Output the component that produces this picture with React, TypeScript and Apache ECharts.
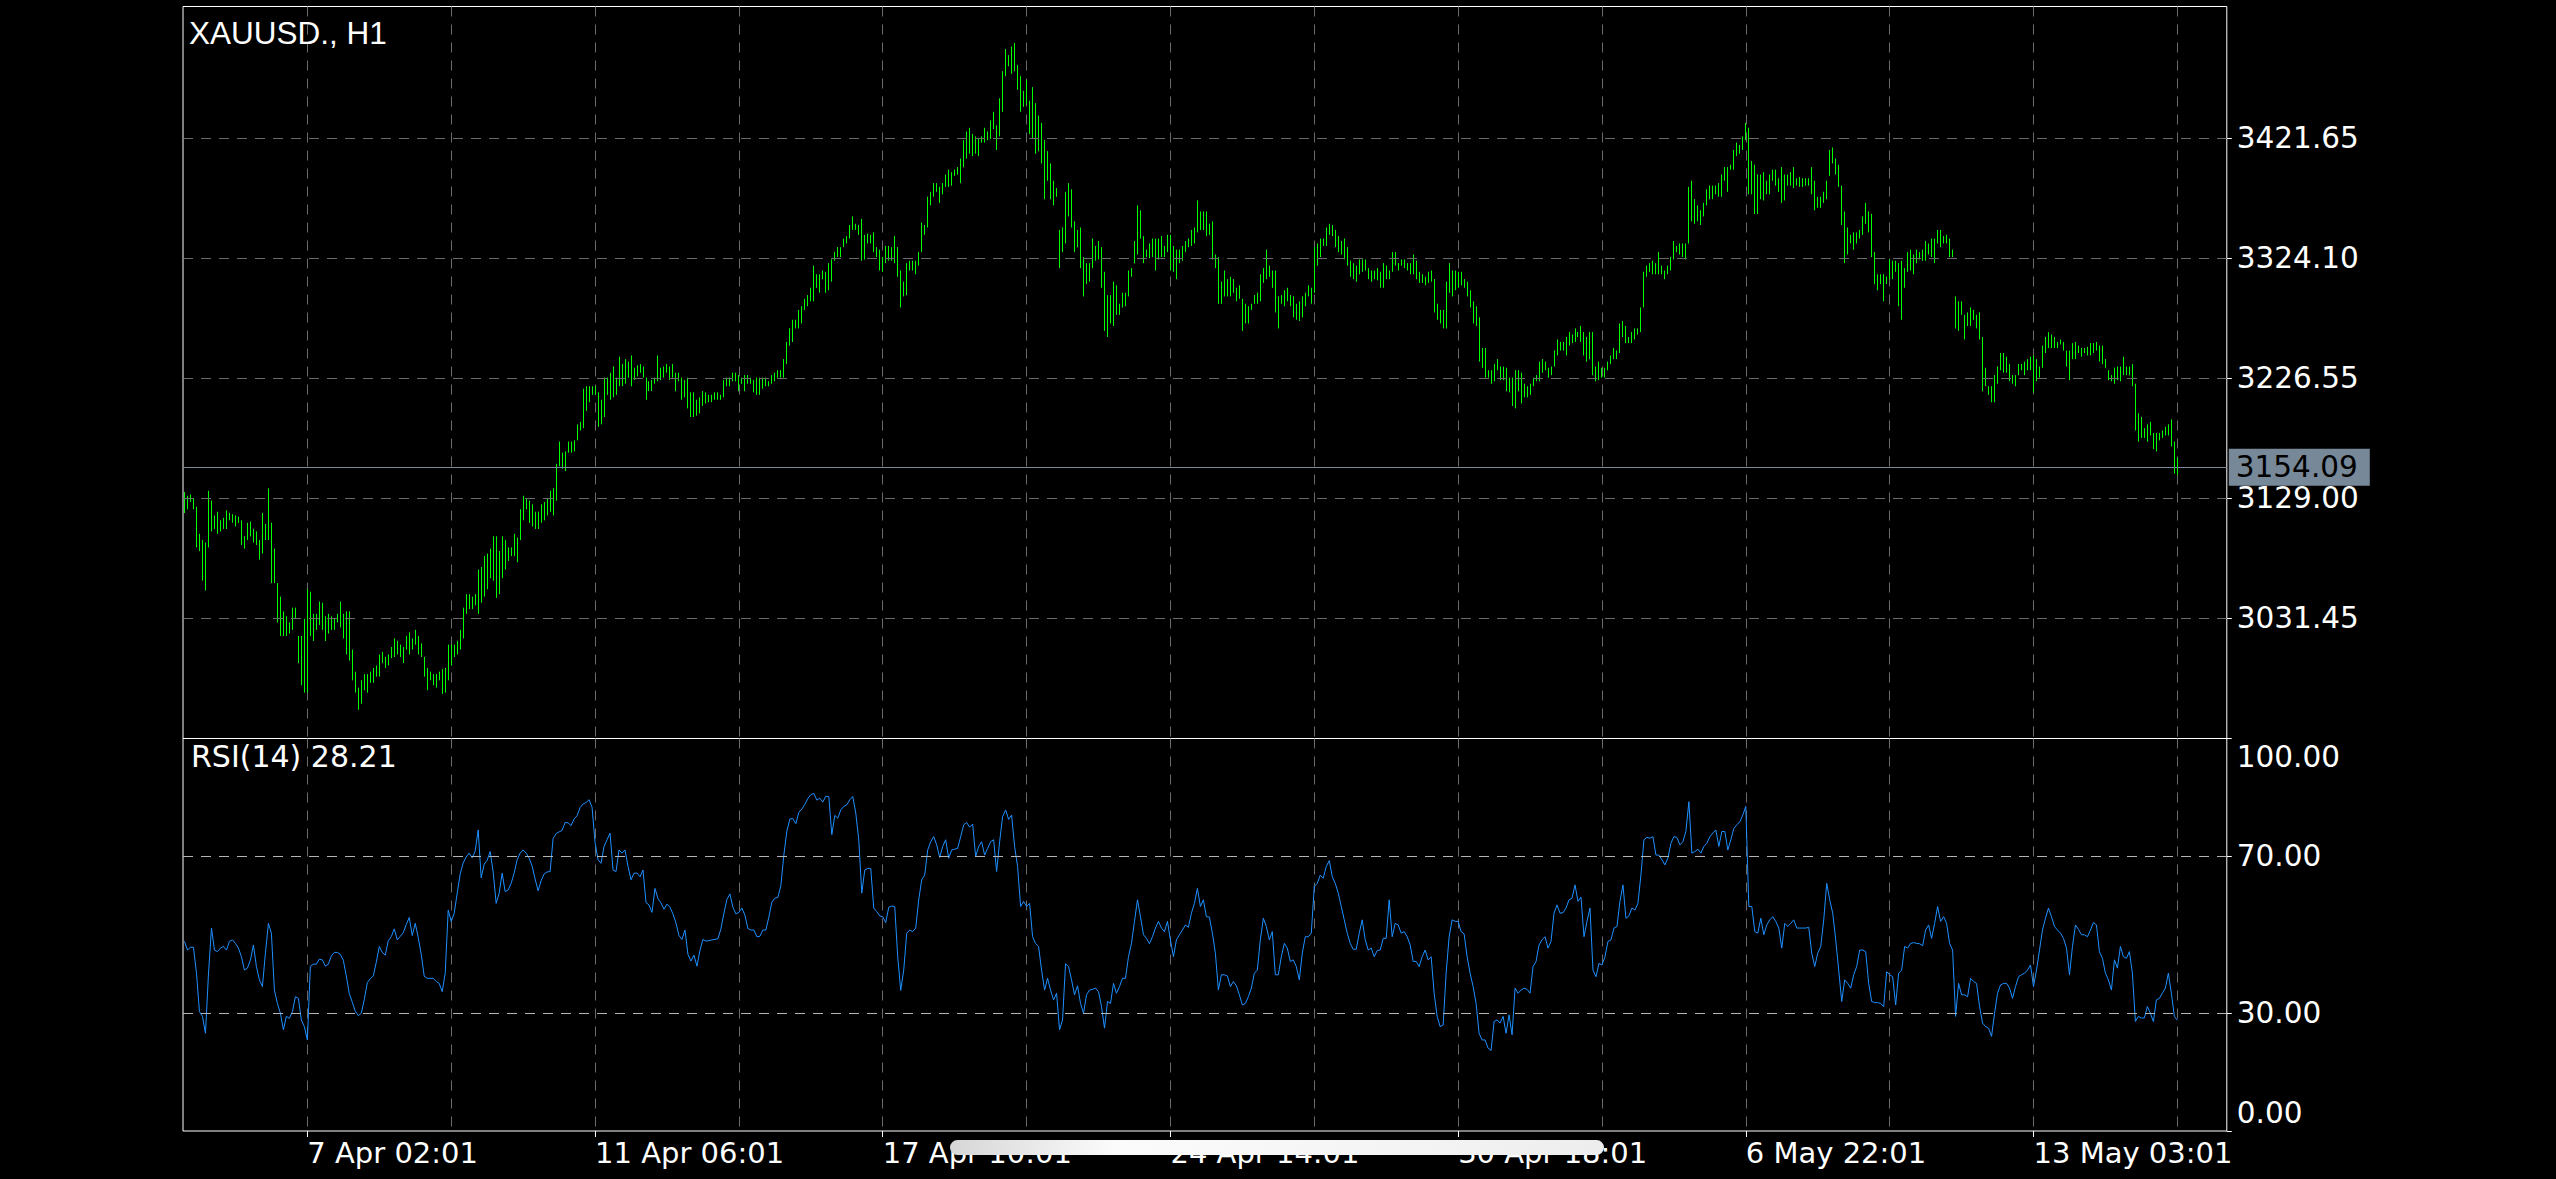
import React, { useEffect, useRef } from "react";
import * as echarts from "echarts";

// ---------- data ----------
const symbolTitle = "XAUUSD., H1";
const rsiTitle = "RSI(14) 28.21";
const lastPrice = 3154.09;

const priceTicks = [3031.45, 3129.0, 3226.55, 3324.1, 3421.65];
const rsiTicks = [0, 30, 70, 100];
const rsiLevels = [30, 70];

const xTickLabels = ["7 Apr 02:01", "11 Apr 06:01", "17 Apr 10:01", "24 Apr 14:01", "30 Apr 18:01", "6 May 22:01", "13 May 03:01"];
const xTickBars = [41, 137, 233, 329, 425, 521, 617];

// hourly bar highs / lows (H1)
const barHigh = [
  3134,3131,3132,3129,3122,3100,3095,3093,3135,3127,
  3115,3118,3111,3113,3119,3117,3116,3115,3114,3111,
  3098,3109,3110,3104,3102,3095,3117,3108,3137,3109,
  3088,3060,3049,3037,3033,3028,3040,3040,3017,3017,
  3031,3055,3053,3035,3035,3045,3044,3033,3035,3033,
  3031,
  3035,3045,3035,3037,3037,3006,2988,2975,2981,2986,
  2986,2988,2991,2993,3002,3004,3000,3002,3008,3015,
  3013,3010,3008,3017,3020,3015,3022,3017,3011,3000,
  2991,2988,2986,2986,2988,2990,2991,3010,3010,3010,
  3013,3022,3040,3051,3051,3049,3051,3071,3073,3082,
  3084,3088,3098,3098,3086,3098,3095,3089,3089,3100,
  3097,3120,3131,3129,3127,3124,3118,3118,3124,3126,
  3129,3135,3137,3157,3175,3166,3167,3175,3175,3176,
  3189,3191,3218,3220,3220,3220,3220,3215,3209,3227,
  3227,3231,3236,3227,3244,3238,3242,3240,3245,3235,
  3237,
  3238,3236,3227,3224,3225,3227,3245,3235,3236,3238,
  3236,3238,3231,3231,3227,3225,3227,3215,3215,3209,
  3211,3216,3215,3213,3213,3215,3215,3213,3225,3227,
  3227,3231,3231,3229,3227,3229,3229,3227,3225,3227,
  3227,3227,3227,3224,3229,3231,3233,3233,3242,3256,
  3267,3274,3274,3282,3285,3291,3294,3300,3318,3311,
  3311,3314,3313,3320,3323,3329,3333,3333,3340,3342,
  3351,3358,3352,3351,3356,
  3343,3344,3343,3345,3333,3331,3325,3334,3334,3333,
  3342,3333,3314,3305,3320,3322,3322,3322,3329,3353,
  3351,3374,3378,3385,3385,3382,3385,3392,3396,3394,
  3396,3398,3405,3420,3427,3430,3425,3423,3421,3423,
  3430,3427,3436,3443,3432,3454,3476,3494,3489,3496,
  3499,3481,3472,3460,3469,3452,3463,3450,3440,3434,
  3420,3411,3401,3387,3381,3347,3349,3378,3385,3380,
  3354,3347,3349,3325,3320,3320,3340,3334,3338,3333,
  3313,3294,3294,3305,3302,3287,3296,3296,3314,3316,
  3338,3367,3363,3342,3331,
  3336,
  3340,3340,3340,3342,3334,3343,3343,3334,3331,3331,
  3334,3338,3340,3347,3349,3371,3362,3362,3362,3352,
  3354,3327,3325,3305,3314,3307,3309,3307,3300,3302,
  3291,3287,3285,3287,3294,3296,3311,3316,3331,3318,
  3314,3314,3293,3294,3298,3300,3294,3293,3287,3289,
  3293,3296,3302,3300,3333,3336,3340,3340,3349,3352,
  3351,3347,3342,3338,3340,3333,3322,3320,3318,3323,
  3323,3323,3316,3314,3314,
  3316,
  3313,3320,3318,3314,3329,3329,3320,3323,3323,3320,
  3320,3327,3322,3313,3311,3309,3313,3314,3307,3287,
  3282,3282,3305,3320,3314,3314,3313,3313,3307,3305,
  3298,3289,3285,3276,3251,3251,3233,3233,3238,3242,
  3236,3236,3235,3227,3227,3233,3233,3231,3222,3220,
  3222,3227,3229,3240,
  3242,3240,3235,3236,3249,3258,3256,3256,3260,3264,
  3262,3267,3264,3269,3264,3260,3264,3264,3236,3240,
  3235,3235,3240,3245,3251,3249,3271,3273,3269,3260,
  3264,3267,3267,3284,3313,3318,3320,3322,3320,3329,
  3318,3314,3318,3325,3338,3334,3336,3336,3336,3382,
  3387,3372,3367,3363,3369,3380,3383,3383,3383,3385,
  3392,3398,3398,3400,3412,3418,3416,3423,3434,3430,
  3403,3400,3392,3392,3394,3387,3392,3396,3396,3389,
  3398,3392,3392,3394,3398,3389,
  3390,
  3389,3389,3389,3398,3387,3374,3374,3378,3387,3412,
  3414,3405,3400,3383,3362,3349,3343,3345,3345,3347,
  3358,3369,3362,3360,3329,3311,3311,3311,3309,3323,
  3322,3322,3320,3322,3316,3329,3331,3327,3331,3329,
  3331,3338,3336,3340,3340,3347,3347,3342,3343,3340,
  3331,
  3293,3289,3289,3278,3280,3284,3282,3278,3280,3260,
  3235,3220,3220,3229,3236,3247,3247,3244,3238,3229,
  3229,3238,3238,3240,3242,3244,3245,3242,3236,3253,
  3260,3264,3262,3260,3256,3258,3256,3249,3249,3255,
  3256,3253,3251,3251,
  3252,
  3255,3255,3256,3253,3253,3242,3233,3229,3235,3236,
  3236,3244,3236,3236,3238,3222,3198,3195,3186,3189,
  3191,3182,3182,3182,3184,3187,3189,3193,3175,3162,
];

const barLow = [
  3117,3120,3126,3120,3089,3086,3062,3054,3089,3102,
  3104,3100,3102,3104,3104,3111,3109,3106,3109,3091,
  3088,3095,3098,3093,3091,3079,3084,3095,3095,3060,
  3060,3028,3017,3017,3017,3019,3022,3031,2995,2977,
  2971,2971,3017,3013,3022,3026,3022,3013,3019,3022,
  3022,
  3028,3024,3015,3002,2997,2981,2971,2957,2962,2973,
  2971,2979,2979,2984,2984,2995,2991,2993,2999,3000,
  3002,3000,2995,3006,3002,3006,3010,3002,3000,2984,
  2973,2981,2977,2975,2981,2970,2971,2981,2993,3000,
  3002,3006,3015,3035,3039,3039,3042,3035,3044,3049,
  3055,3064,3062,3048,3051,3064,3071,3078,3082,3082,
  3077,3095,3111,3120,3109,3106,3104,3104,3109,3111,
  3115,3118,3115,3127,3155,3153,3151,3166,3166,3167,
  3176,3184,3186,3200,3207,3213,3213,3187,3189,3195,
  3213,3209,3211,3213,3220,3220,3222,3227,3220,3225,
  3228,
  3231,3227,3209,3216,3216,3222,3224,3225,3227,3231,
  3225,3227,3216,3224,3209,3211,3202,3195,3195,3196,
  3198,3204,3206,3207,3207,3209,3209,3209,3211,3220,
  3220,3224,3224,3216,3222,3216,3222,3222,3215,3213,
  3213,3218,3220,3220,3222,3224,3227,3227,3227,3238,
  3253,3256,3267,3267,3271,3282,3285,3289,3289,3300,
  3296,3307,3296,3298,3305,3322,3325,3325,3333,3336,
  3340,3347,3347,3343,3322,
  3323,3336,3336,3329,3325,3314,3313,3320,3322,3322,
  3320,3309,3284,3293,3294,3314,3314,3311,3318,3329,
  3343,3349,3367,3374,3378,3369,3376,3382,3382,3383,
  3391,3392,3385,3398,3405,3409,3407,3409,3407,3418,
  3418,3420,3421,3429,3412,3423,3443,3472,3480,3474,
  3476,3461,3443,3447,3449,3425,3421,3409,3411,3401,
  3372,3387,3372,3367,3374,3316,3329,3336,3358,3349,
  3329,3333,3316,3293,3303,3305,3316,3322,3323,3300,
  3265,3260,3271,3269,3278,3278,3284,3285,3293,3309,
  3320,3327,3340,3320,3325,
  3324,
  3325,3314,3323,3325,3325,3329,3314,3313,3307,3320,
  3322,3329,3333,3334,3336,3345,3347,3347,3342,3343,
  3323,3316,3287,3287,3293,3293,3293,3296,3289,3291,
  3265,3271,3271,3282,3287,3287,3289,3304,3307,3309,
  3300,3280,3267,3287,3285,3289,3285,3276,3274,3273,
  3276,3285,3293,3287,3296,3318,3325,3334,3334,3343,
  3342,3333,3329,3327,3323,3318,3309,3307,3305,3311,
  3313,3314,3307,3305,3307,
  3306,
  3300,3300,3307,3307,3313,3318,3314,3318,3316,3314,
  3311,3311,3307,3304,3304,3302,3304,3305,3280,3274,
  3271,3267,3267,3296,3293,3298,3300,3302,3300,3293,
  3284,3271,3269,3240,3235,3227,3227,3222,3224,3233,
  3225,3225,3216,3215,3204,3202,3216,3206,3211,3211,
  3213,3220,3224,3224,
  3231,3233,3227,3229,3236,3245,3249,3249,3245,3253,
  3255,3256,3260,3256,3245,3240,3242,3229,3224,3225,
  3227,3227,3233,3238,3242,3242,3247,3260,3255,3255,
  3255,3258,3262,3264,3284,3309,3313,3311,3311,3311,
  3311,3307,3311,3314,3323,3329,3327,3325,3323,3336,
  3354,3352,3354,3351,3358,3367,3372,3372,3376,3374,
  3374,3387,3378,3396,3396,3407,3409,3412,3420,3376,
  3376,3360,3360,3372,3371,3376,3376,3387,3383,3378,
  3369,3371,3383,3383,3381,3383,
  3382,
  3382,3383,3383,3376,3363,3365,3365,3369,3372,3391,
  3401,3392,3382,3351,3320,3327,3336,3331,3336,3340,
  3343,3352,3345,3325,3303,3298,3303,3289,3303,3307,
  3307,3313,3285,3274,3300,3313,3314,3311,3320,3323,
  3322,3322,3327,3325,3320,3336,3333,3336,3336,3325,
  3325,
  3267,3265,3278,3258,3269,3269,3274,3267,3258,3216,
  3220,3213,3207,3207,3222,3233,3231,3231,3224,3222,
  3220,3229,3233,3229,3233,3233,3215,3224,3227,3235,
  3247,3251,3251,3251,3251,3254,3249,3236,3225,3242,
  3242,3247,3244,3247,
  3245,
  3245,3247,3249,3240,3238,3235,3225,3224,3222,3225,
  3224,3229,3229,3229,3220,3184,3175,3178,3178,3175,
  3180,3169,3167,3176,3178,3180,3180,3171,3149,3148,
];

// RSI(14) per bar
const rsiValues = [
  48.3,46.1,46.8,46.8,40.2,30.4,29.2,24.9,40.0,51.7,
  46.1,45.7,46.6,47.0,46.1,48.3,48.7,47.8,46.6,44.4,
  41.0,41.5,43.6,47.4,41.9,38.5,36.8,45.3,52.9,50.4,
  35.9,32.5,30.0,25.8,29.2,28.7,30.4,34.2,33.8,28.3,
  26.6,23.2,42.0,42.5,42.5,43.8,43.6,42.0,42.5,44.6,
  45.5,45.5,45.0,43.5,39.5,35.0,32.8,30.5,29.4,30.0,
  33.5,37.8,38.8,39.5,43.0,47.0,45.5,44.8,48.5,49.5,
  51.5,48.7,49.6,50.5,52.6,54.4,49.8,52.9,49.3,45.0,
  39.4,38.9,38.9,38.9,38.1,37.6,35.5,40.2,56.3,53.4,
  55.5,60.6,65.5,68.3,69.8,70.8,69.6,71.3,76.7,64.5,
  68.0,69.0,71.2,66.0,58.0,60.6,65.7,61.0,61.4,63.1,
  65.7,69.1,70.8,71.6,70.8,69.5,67.5,64.2,61.2,63.8,
  65.5,66.0,66.1,74.5,75.8,76.2,76.6,78.6,78.5,77.8,
  79.5,80.3,82.4,83.3,83.7,84.4,82.5,73.5,69.1,68.2,
  72.5,74.2,75.9,66.5,66.1,71.6,70.8,71.6,67.4,64.0,
  65.7,65.7,64.8,66.5,58.2,57.6,55.7,61.8,59.2,58.1,
  56.5,57.8,57.0,55.3,53.0,49.8,48.8,51.2,45.0,43.3,
  44.8,42.0,46.0,48.8,48.4,48.5,48.7,48.8,49.0,51.5,
  55.5,59.0,60.4,57.0,55.3,55.7,56.8,55.0,51.6,51.2,
  51.2,49.5,49.6,51.2,51.2,54.5,58.3,59.3,59.5,62.5,
  70.3,76.4,79.5,79.6,78.3,81.2,82.0,83.2,84.7,85.7,
  86.0,84.3,84.8,83.8,85.3,85.2,75.5,80.4,79.7,81.8,
  82.7,83.1,84.4,85.2,81.0,74.2,60.6,66.5,66.9,66.9,
  56.8,55.9,54.8,54.6,53.1,57.0,57.3,57.2,44.4,35.8,
  41.0,50.4,51.2,50.8,51.7,58.9,64.0,65.2,71.6,73.7,
  75.0,72.9,69.7,72.5,74.2,69.5,71.6,71.8,72.0,75.0,
  78.0,78.6,77.4,78.2,69.9,72.5,73.7,70.3,72.0,73.7,
  74.2,66.1,73.7,80.1,81.8,79.4,80.5,72.5,67.4,57.2,
  58.5,57.2,58.0,49.5,47.8,47.0,41.0,35.9,38.9,35.9,
  33.4,35.1,25.8,28.3,42.6,41.9,38.5,34.7,37.0,32.5,
  30.0,34.7,35.9,36.1,36.4,35.5,31.7,26.2,33.0,32.5,
  37.6,35.1,36.8,38.9,38.9,44.4,47.8,53.4,58.9,54.6,
  50.0,49.1,47.7,49.5,51.7,53.4,51.7,50.8,53.4,48.7,
  44.4,48.7,50.0,51.2,52.5,51.9,55.5,58.0,61.8,57.2,
  58.9,54.6,54.5,50.4,45.3,35.9,39.8,39.8,39.5,36.8,
  38.1,37.0,34.7,32.1,32.5,34.2,36.4,40.2,41.0,48.7,
  54.2,52.1,48.7,50.8,39.8,39.8,44.4,47.8,46.6,43.2,
  43.6,41.9,38.5,45.3,49.5,49.5,50.4,62.3,63.1,65.2,
  64.4,67.4,68.9,64.8,63.1,60.6,57.2,53.8,50.4,47.8,
  46.3,46.3,50.4,53.8,48.7,46.1,46.6,44.4,46.0,46.1,
  49.1,49.1,58.9,49.5,52.9,52.5,50.4,50.8,49.5,47.4,
  43.2,43.2,41.9,44.4,46.1,43.6,44.4,35.1,29.2,26.6,
  27.0,40.2,49.5,53.8,53.4,53.4,50.8,50.2,44.4,40.2,
  36.8,32.5,24.9,23.2,23.2,21.1,20.5,27.9,28.3,27.5,
  29.2,24.9,29.6,24.5,36.4,35.1,35.9,36.4,36.1,35.1,
  41.9,43.2,47.4,48.7,49.5,46.6,48.3,55.5,57.6,55.5,
  55.6,56.8,58.9,59.3,62.7,58.5,59.6,49.5,53.4,56.8,
  41.0,39.3,42.7,42.3,44.4,48.3,48.7,51.7,52.1,58.5,
  62.7,54.2,54.8,56.8,56.3,58.0,65.2,74.2,74.8,74.6,
  75.0,70.3,70.3,69.1,67.8,69.5,73.3,75.0,74.8,72.9,
  73.7,76.3,83.9,70.8,71.2,71.8,70.8,72.5,73.3,75.0,
  75.9,76.7,72.5,76.3,76.3,71.6,74.2,77.1,78.0,78.8,
  80.5,82.7,57.2,57.2,50.8,50.4,54.2,50.0,52.5,53.8,
  54.6,53.4,51.7,46.6,52.9,52.1,52.9,53.8,51.7,51.7,
  51.7,51.7,51.9,45.3,41.9,45.3,47.0,53.8,63.1,58.9,
  55.5,48.7,41.0,33.0,38.5,37.6,36.4,39.8,41.9,46.1,
  46.1,45.7,37.6,33.0,32.7,32.7,32.5,31.7,40.6,39.8,
  39.3,32.1,40.2,41.0,47.0,46.6,47.8,48.0,47.8,47.7,
  47.2,51.2,52.5,49.1,52.9,57.2,53.4,54.6,52.9,47.8,
  46.1,29.2,37.6,34.7,34.7,34.2,38.9,38.1,37.6,31.7,
  27.5,26.6,26.2,24.1,30.0,35.1,37.2,37.6,37.6,36.4,
  33.8,36.8,39.3,39.8,40.2,41.0,42.3,36.8,41.0,46.1,
  51.2,54.2,56.8,54.6,52.1,51.2,50.4,49.1,46.6,39.8,
  47.0,52.5,51.4,50.0,50.0,49.5,51.2,53.1,52.5,45.7,
  44.0,40.2,38.5,35.9,43.6,41.5,47.0,44.4,44.0,45.7,
  40.2,27.9,29.2,28.8,28.8,31.7,30.0,27.9,33.4,33.8,
  35.1,36.4,40.2,35.1,29.2,28.21,
];

// ---------- chart ----------
const GRID_STEP = 48; // bars between vertical grid lines
const EMPTY_SLOTS = 16; // chart shift on the right

export default function App() {
  const ref = useRef<HTMLDivElement>(null);

  useEffect(() => {
    document.body.style.margin = "0";
    document.body.style.background = "#000";
    const chart = echarts.init(ref.current!, null, { renderer: "svg" });

    const n = barHigh.length;
    const categories = Array.from({ length: n + EMPTY_SLOTS }, (_, i) => String(i));
    const isGrid = (i: number) => i >= xTickBars[0] && i < n && (i - xTickBars[0]) % GRID_STEP === 0;
    const isLabel = (i: number) => xTickBars.indexOf(i) >= 0;

    const gridLine = { color: "#6b6b6b", width: 1, type: [10, 8] as any };
    const labelFont = { fontFamily: "DejaVu Sans", fontSize: 29.5, color: "#ffffff" };

    const option: any = {
      animation: false,
      backgroundColor: "#000000",
      grid: [
        { left: 183, top: 6.5, width: 2043.8, height: 732, show: true, borderColor: "#ffffff", borderWidth: 1, backgroundColor: "transparent", containLabel: false, outerBoundsMode: "none" },
        { left: 183, top: 738.5, width: 2043.8, height: 392.5, show: true, borderColor: "#ffffff", borderWidth: 1, backgroundColor: "transparent", containLabel: false, outerBoundsMode: "none" },
      ],
      xAxis: [
        {
          type: "category", gridIndex: 0, data: categories, boundaryGap: true,
          axisLine: { show: false }, axisTick: { show: false }, axisLabel: { show: false },
          splitLine: { show: true, interval: (i: number) => isGrid(i), alignWithLabel: true, lineStyle: gridLine },
        },
        {
          type: "category", gridIndex: 1, data: categories, boundaryGap: true,
          axisLine: { show: false },
          axisTick: { show: true, interval: (i: number) => isLabel(i), alignWithLabel: true, length: 6, lineStyle: { color: "#ffffff" } },
          axisLabel: {
            show: true, interval: (i: number) => isLabel(i),
            formatter: (_v: string, i: number) => xTickLabels[xTickBars.indexOf(i)] ?? "",
            align: "left", margin: 7, fontFamily: "DejaVu Sans", fontSize: 29, color: "#ffffff",
          },
          splitLine: { show: true, interval: (i: number) => isGrid(i), alignWithLabel: true, lineStyle: gridLine },
        },
      ],
      yAxis: [
        {
          type: "value", gridIndex: 0, position: "right", min: 2933.7, max: 3528.6,
          splitLine: { show: false }, axisLine: { show: false },
          axisTick: { show: true, customValues: priceTicks, length: 5, lineStyle: { color: "#ffffff" } },
          axisLabel: { show: true, customValues: priceTicks, formatter: (v: number) => v.toFixed(2), margin: 10, showMinLabel: true, showMaxLabel: true, ...labelFont },
        },
        {
          type: "value", gridIndex: 1, position: "right", min: 0, max: 100,
          splitLine: { show: false }, axisLine: { show: false },
          axisTick: { show: true, customValues: rsiTicks, length: 5, lineStyle: { color: "#ffffff" } },
          axisLabel: {
            show: true, customValues: rsiTicks, margin: 10, showMinLabel: true, showMaxLabel: true,
            formatter: (v: number) => (v === 100 ? `{top|${v.toFixed(2)}}` : v === 0 ? `{bot|${v.toFixed(2)}}` : v.toFixed(2)),
            rich: {
              top: { padding: [36, 0, 0, 0], ...labelFont },
              bot: { padding: [0, 0, 36, 0], ...labelFont },
            },
            ...labelFont,
          },
        },
      ],
      graphic: [
        { type: "text", x: 189, y: 16.5, z: 20, style: { text: symbolTitle, fill: "#ffffff", fontSize: 31.5, fontFamily: "Liberation Sans", verticalAlign: "top" } },
        { type: "text", x: 191, y: 741.5, z: 20, style: { text: rsiTitle, fill: "#ffffff", fontSize: 30, fontFamily: "DejaVu Sans", verticalAlign: "top" } },
        {
          type: "rect", z: 200,
          shape: { x: 950, y: 1140, width: 654, height: 15, r: 7.5 },
          style: {
            fill: { type: "linear", x: 0, y: 0, x2: 1, y2: 0, colorStops: [
              { offset: 0, color: "#d6d6d6" }, { offset: 0.25, color: "#fbfbfb" }, { offset: 0.7, color: "#f4f4f4" }, { offset: 1, color: "#ededed" },
            ] },
          },
        },
      ],
      series: [
        {
          name: "grid", type: "line", xAxisIndex: 0, yAxisIndex: 0, symbol: "none", silent: true,
          data: [[n - 1, lastPrice]],
          markLine: {
            silent: true, symbol: ["none", "none"], animation: false,
            data: [
              ...priceTicks.map((v) => ({ yAxis: v, lineStyle: gridLine, label: { show: false } })),
              {
                yAxis: lastPrice, lineStyle: { color: "#778899", type: "solid", width: 1 },
                label: {
                  show: true, position: "end", distance: 2, formatter: lastPrice.toFixed(2),
                  color: "#000000", backgroundColor: "#778899", padding: [4, 12, 3, 7],
                  fontFamily: "DejaVu Sans", fontSize: 29.5,
                },
              },
            ],
          },
        },
        {
          name: "levels", type: "line", xAxisIndex: 1, yAxisIndex: 1, symbol: "none", silent: true,
          data: [[0, rsiLevels[0]]],
          markLine: {
            silent: true, symbol: ["none", "none"], animation: false,
            data: rsiLevels.map((v) => ({ yAxis: v })),
            lineStyle: { color: "#b4b4b4", type: [10, 8], width: 1 },
            label: { show: false },
          },
        },
        {
          name: "XAUUSD", type: "custom", xAxisIndex: 0, yAxisIndex: 0, clip: true,
          data: barHigh.map((h, i) => [i, h, barLow[i]]),
          encode: { x: 0, y: [1, 2] },
          renderItem: (_p: any, api: any) => {
            const top = api.coord([api.value(0), api.value(1)]);
            const bot = api.coord([api.value(0), api.value(2)]);
            const x = Math.floor(top[0]) + 0.5;
            return {
              type: "line",
              shape: { x1: x, y1: top[1], x2: x, y2: bot[1] },
              style: { stroke: "#00ff00", lineWidth: 1 },
            };
          },
        },
        {
          name: "RSI", type: "line", xAxisIndex: 1, yAxisIndex: 1, symbol: "none", showSymbol: false,
          data: rsiValues, lineStyle: { color: "#1e90ff", width: 1 },
        },
      ],
    };

    chart.setOption(option);
    return () => chart.dispose();
  }, []);

  return <div ref={ref} style={{ width: 2556, height: 1179, background: "#000" }} />;
}
